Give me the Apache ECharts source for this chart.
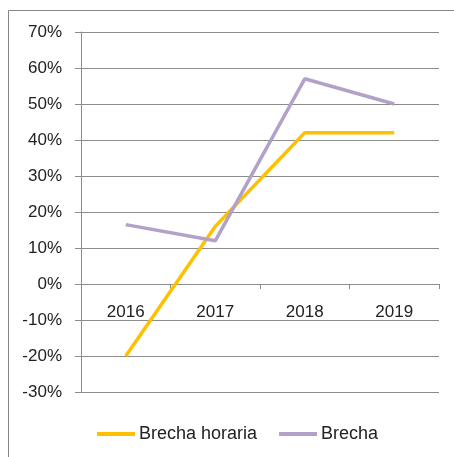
<!DOCTYPE html>
<html lang="es">
<head>
<meta charset="UTF-8">
<title>Brecha</title>
<script src="https://cdn.jsdelivr.net/npm/echarts@6/dist/echarts.min.js"></script>
<style>
  html, body { margin: 0; padding: 0; background: #fff; }
</style>
</head>
<body>
<div id="main" style="width: 454px;height:457px;"></div>
<script type="text/javascript">
    // datos
    var years = ['2016', '2017', '2018', '2019'];
    var brechaHoraria = [-20, 16, 42, 42];
    var brecha = [16.5, 12, 57, 50];
    var yTicks = { min: -30, max: 70, step: 10 };

    var myChart = echarts.init(document.getElementById('main'));
    var font = 'Liberation Sans';
    var gridColor = '#8c8c8c';

    var option = {
        animation: false,
        backgroundColor: '#fff',
        textStyle: { fontFamily: font },
        graphic: [{
            type: 'rect',
            shape: { x: 8.5, y: 10.5, width: 460, height: 460 },
            style: { fill: 'none', stroke: '#868686', lineWidth: 1 }
        }],
        legend: {
            left: 92,
            top: 420,
            itemWidth: 38,
            itemHeight: 4,
            itemGap: 22,
            icon: 'rect',
            textStyle: { fontSize: 18, color: '#222', fontFamily: font, padding: [0, 0, 0, -1] },
            data: ['Brecha horaria', 'Brecha']
        },
        grid: { left: 81, right: 15, top: 32, bottom: 65 },
        xAxis: {
            type: 'category',
            data: years,
            boundaryGap: true,
            axisLine: { onZero: true, lineStyle: { color: gridColor, width: 1 } },
            axisTick: { show: true, length: 5, lineStyle: { color: gridColor } },
            // las etiquetas van junto a la línea del 0%
            axisLabel: { color: '#222', fontSize: 17, margin: -88, fontFamily: font }
        },
        yAxis: {
            type: 'value',
            min: yTicks.min,
            max: yTicks.max,
            interval: yTicks.step,
            axisLine: { show: true, lineStyle: { color: gridColor, width: 1 } },
            axisTick: { show: true, length: 6, lineStyle: { color: gridColor } },
            splitLine: { show: true, lineStyle: { color: gridColor, width: 1 } },
            axisLabel: { color: '#222', fontSize: 17, margin: 19, fontFamily: font, formatter: '{value}%' }
        },
        series: [
            {
                name: 'Brecha horaria',
                type: 'line',
                data: brechaHoraria,
                showSymbol: false,
                symbol: 'none',
                itemStyle: { color: '#FFC000' },
                lineStyle: { color: '#FFC000', width: 3.5 }
            },
            {
                name: 'Brecha',
                type: 'line',
                data: brecha,
                showSymbol: false,
                symbol: 'none',
                itemStyle: { color: '#B3A2C7' },
                lineStyle: { color: '#B3A2C7', width: 3.5 }
            }
        ]
    };

    myChart.setOption(option);
</script>
</body>
</html>
